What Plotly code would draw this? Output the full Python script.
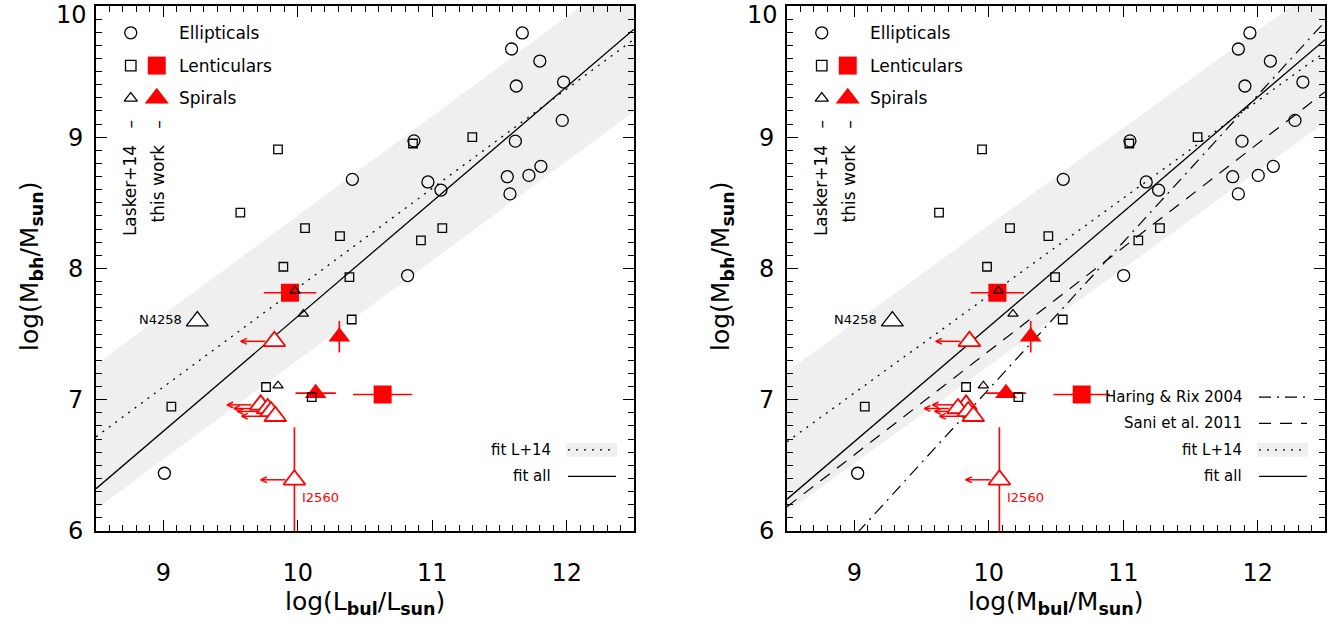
import plotly.graph_objects as go

# ------------------------------------------------------------------ data
# Lasker+14 ellipticals (same log Mbh in both panels)
ell_y = [9.794, 9.672, 9.58, 9.39, 9.42, 9.128, 8.972, 8.970, 8.659, 8.597,
         8.699, 8.709, 8.778, 8.568, 7.946, 8.679, 6.44]
ell_logL = [11.67, 11.59, 11.80, 11.625, 11.977, 11.967, 10.864, 11.618, 10.968, 11.065,
            11.558, 11.719, 11.808, 11.578, 10.817, 10.406, 9.008]
ell_logM = [11.942, 11.856, 12.094, 11.905, 12.336, 12.277, 11.050, 11.883, 11.171, 11.263,
            11.814, 12.004, 12.116, 11.856, 11.003, 10.554, 9.025]

# Lasker+14 lenticulars
s0_y = [8.907, 8.426, 8.307, 8.247, 8.013, 7.934, 8.952, 9.0, 8.307, 8.214,
        7.611, 6.948, 7.097, 7.020]
s0_logL = [9.853, 9.573, 10.054, 10.314, 9.893, 10.384, 10.857, 11.298, 11.075, 10.916,
           10.401, 9.060, 9.764, 10.104]
s0_logM = [9.950, 9.630, 10.158, 10.443, 9.987, 10.493, 11.045, 11.553, 11.273, 11.112,
           10.55, 9.078, 9.831, 10.22]

# Lasker+14 spirals
sp_y = [7.830, 7.654, 7.107]
sp_logL = [9.980, 10.042, 9.853]
sp_logM = [10.071, 10.180, 9.960]

# NGC 4258
n4258_y = [7.599]
n4258_logL = [9.253]
n4258_logM = [9.283]

# this work: lenticulars (filled squares, x errors)
tw_s0_y = [7.815, 7.040]
tw_s0_logL = [9.942, 10.631]
tw_s0_errL = [0.195, 0.22]
tw_s0_logM = [10.064, 10.691]
tw_s0_errM = [0.198, 0.21]

# this work: spiral with x error
tw_sph_y = [7.05]
tw_sph_logL = [10.133]
tw_sph_errL = [0.15]
tw_sph_logM = [10.128]
tw_sph_errM = [0.15]

# this work: spiral with y error
tw_spv_y = [7.48]
tw_spv_erry = [0.12]
tw_spv_logL = [10.309]
tw_spv_logM = [10.312]

# this work: spirals, upper limits on bulge (open triangles with arrows)
tw_lim_y = [7.445, 6.961, 6.933, 6.911, 6.874, 6.39]
tw_lim_erry = [0, 0, 0, 0, 0, 0.4]
tw_lim_logL = [9.826, 9.724, 9.776, 9.801, 9.833, 9.975]
tw_lim_logM = [9.856, 9.831, 9.771, 9.848, 9.885, 10.079]
tw_lim_names = ["", "", "", "", "", "I2560"]
limit_len = 0.25

# fits: (value at log x = 11, slope)
fit_all_L = (8.51, 0.875)
fit_L14_L = (8.61, 0.757)
band_L = 0.55
fit_all_M = (8.43, 0.875)
fit_L14_M = (8.535, 0.742)
band_M = 0.535
sani2011 = (8.16, 0.79)
haring2004 = (8.20, 1.12)
PIVOT = 11.0

XR = [8.5, 12.5]
YR = [6, 10]
X_TICKS = [9, 10, 11, 12]
Y_TICKS = [6, 7, 8, 9, 10]

# ------------------------------------------------------------------ layout helpers
W, H = 1343, 636
FONT = "DejaVu Sans"
RED = "#ff0000"
GREY = "#efefef"
TICKFONT = dict(family=FONT, size=24, color="black")

# arrow geometry (in axis units): gap from marker, head arm length / spread
ARROW_GAP = 0.068
HEAD_DX = 0.045
HEAD_DY = 0.022


def px(x):
    return x / W


def py(y):
    return 1 - y / H


PANELS = [
    dict(xa="x", ya="y", x0=96, x1=634, xlab="log(L<sub><b>bul</b></sub>/L<sub><b>sun</b></sub>)",
         ell=ell_logL, s0=s0_logL, sp=sp_logL, n=n4258_logL,
         tws0=tw_s0_logL, tws0e=tw_s0_errL, twsph=tw_sph_logL, twsphe=tw_sph_errL,
         twspv=tw_spv_logL, twlim=tw_lim_logL,
         fit_all=fit_all_L, fit_l14=fit_L14_L, band=band_L, extra=False),
    dict(xa="x2", ya="y2", x0=787, x1=1325, xlab="log(M<sub><b>bul</b></sub>/M<sub><b>sun</b></sub>)",
         ell=ell_logM, s0=s0_logM, sp=sp_logM, n=n4258_logM,
         tws0=tw_s0_logM, tws0e=tw_s0_errM, twsph=tw_sph_logM, twsphe=tw_sph_errM,
         twspv=tw_spv_logM, twlim=tw_lim_logM,
         fit_all=fit_all_M, fit_l14=fit_L14_M, band=band_M, extra=True),
]

Y0, Y1 = 6, 543  # pixel top / bottom of plot area

fig = go.Figure()
annotations = []
shapes = []


def line_y(fit, xs):
    a, b = fit
    return [a + b * (x - PIVOT) for x in xs]


def open_marker(symbol, size, width=1.3, color="black"):
    return dict(symbol=symbol, size=size, color=color, line=dict(color=color, width=width))


for P in PANELS:
    xa, ya = P["xa"], P["ya"]
    xref = xa
    yref = ya
    xs = XR
    # scatter band
    up = [v + P["band"] for v in line_y(P["fit_l14"], xs)]
    lo = [v - P["band"] for v in line_y(P["fit_l14"], xs)]
    fig.add_trace(go.Scatter(x=xs + xs[::-1], y=up + lo[::-1], fill="toself", fillcolor=GREY,
                             line=dict(width=0), mode="lines", hoverinfo="skip",
                             xaxis=xa, yaxis=ya, showlegend=False))
    # fit lines
    fig.add_trace(go.Scatter(x=xs, y=line_y(P["fit_l14"], xs), mode="lines",
                             line=dict(color="black", width=1.3, dash="2px,6px"),
                             xaxis=xa, yaxis=ya, showlegend=False))
    fig.add_trace(go.Scatter(x=xs, y=line_y(P["fit_all"], xs), mode="lines",
                             line=dict(color="black", width=1.3),
                             xaxis=xa, yaxis=ya, showlegend=False))
    if P["extra"]:
        fig.add_trace(go.Scatter(x=xs, y=line_y(sani2011, xs), mode="lines",
                                 line=dict(color="black", width=1.2, dash="12px,9px"),
                                 xaxis=xa, yaxis=ya, showlegend=False))
        fig.add_trace(go.Scatter(x=xs, y=line_y(haring2004, xs), mode="lines",
                                 line=dict(color="black", width=1.2, dash="12px,6px,2px,6px"),
                                 xaxis=xa, yaxis=ya, showlegend=False))

    # this work: upper-limit arrows (shaft + open head), built from the data
    ax_, ay_ = [], []
    for xv, yv in zip(P["twlim"], tw_lim_y):
        tip = xv - limit_len
        ax_ += [xv - ARROW_GAP, tip, None,
                tip + HEAD_DX, tip, tip + HEAD_DX, None]
        ay_ += [yv, yv, None,
                yv + HEAD_DY, yv, yv - HEAD_DY, None]
    fig.add_trace(go.Scatter(x=ax_, y=ay_, mode="lines", line=dict(color=RED, width=1.5),
                             connectgaps=False, xaxis=xa, yaxis=ya, showlegend=False))
    # this work: open triangles (limits)
    fig.add_trace(go.Scatter(x=P["twlim"], y=tw_lim_y, mode="markers",
                             error_y=dict(type="data", array=tw_lim_erry, color=RED,
                                          thickness=1.6, width=0),
                             marker=dict(symbol="triangle-up", size=19, color="white",
                                         line=dict(color=RED, width=1.8)),
                             xaxis=xa, yaxis=ya, showlegend=False))
    # this work: filled squares
    fig.add_trace(go.Scatter(x=P["tws0"], y=tw_s0_y, mode="markers",
                             error_x=dict(type="data", array=P["tws0e"], color=RED,
                                          thickness=1.6, width=0),
                             marker=dict(symbol="square", size=18, color=RED,
                                         line=dict(width=0)),
                             xaxis=xa, yaxis=ya, showlegend=False))
    # this work: filled triangles
    fig.add_trace(go.Scatter(x=P["twsph"], y=tw_sph_y, mode="markers",
                             error_x=dict(type="data", array=P["twsphe"], color=RED,
                                          thickness=1.6, width=0),
                             marker=dict(symbol="triangle-up", size=19, color=RED,
                                         line=dict(width=0)),
                             xaxis=xa, yaxis=ya, showlegend=False))
    fig.add_trace(go.Scatter(x=P["twspv"], y=tw_spv_y, mode="markers",
                             error_y=dict(type="data", array=tw_spv_erry, color=RED,
                                          thickness=1.6, width=0),
                             marker=dict(symbol="triangle-up", size=19, color=RED,
                                         line=dict(width=0)),
                             xaxis=xa, yaxis=ya, showlegend=False))

    # Lasker+14
    fig.add_trace(go.Scatter(x=P["ell"], y=ell_y, mode="markers",
                             marker=open_marker("circle-open", 12),
                             xaxis=xa, yaxis=ya, showlegend=False))
    fig.add_trace(go.Scatter(x=P["s0"], y=s0_y, mode="markers",
                             marker=open_marker("square-open", 8.5),
                             xaxis=xa, yaxis=ya, showlegend=False))
    fig.add_trace(go.Scatter(x=P["sp"], y=sp_y, mode="markers",
                             marker=open_marker("triangle-up-open", 9, 1.2),
                             xaxis=xa, yaxis=ya, showlegend=False))
    fig.add_trace(go.Scatter(x=P["n"], y=n4258_y, mode="markers",
                             marker=dict(symbol="triangle-up", size=19, color="white",
                                         line=dict(color="black", width=1.3)),
                             xaxis=xa, yaxis=ya, showlegend=False))

    # point labels
    annotations.append(dict(x=P["n"][0], y=n4258_y[0], xref=xref, yref=yref, text="N4258",
                            showarrow=False, xanchor="right", xshift=-13, yshift=2,
                            font=dict(family=FONT, size=13, color="black")))
    for xv, yv, nm in zip(P["twlim"], tw_lim_y, tw_lim_names):
        if nm:
            annotations.append(dict(x=xv, y=yv, xref=xref, yref=yref, text=nm,
                                    showarrow=False, xanchor="left", xshift=6, yshift=-18,
                                    font=dict(family=FONT, size=13, color=RED)))

    # ---- upper-left legend (positions in pixels relative to the panel)
    def dx(p):  # pixel offset -> data x
        return XR[0] + p * (XR[1] - XR[0]) / (P["x1"] - P["x0"])

    def dy(p):  # pixel from top -> data y
        return YR[1] - (p - Y0) * (YR[1] - YR[0]) / (Y1 - Y0)

    rows = [33.5, 67, 100.5]
    fig.add_trace(go.Scatter(x=[dx(34.7)], y=[dy(rows[0])], mode="markers", cliponaxis=False,
                             marker=open_marker("circle-open", 12),
                             xaxis=xa, yaxis=ya, showlegend=False))
    fig.add_trace(go.Scatter(x=[dx(34.7)], y=[dy(rows[1])], mode="markers", cliponaxis=False,
                             marker=open_marker("square-open", 10.5),
                             xaxis=xa, yaxis=ya, showlegend=False))
    fig.add_trace(go.Scatter(x=[dx(34.7)], y=[dy(rows[2])], mode="markers", cliponaxis=False,
                             marker=open_marker("triangle-up-open", 11.5),
                             xaxis=xa, yaxis=ya, showlegend=False))
    fig.add_trace(go.Scatter(x=[dx(60.7)], y=[dy(rows[1])], mode="markers", cliponaxis=False,
                             marker=dict(symbol="square", size=18, color=RED, line=dict(width=0)),
                             xaxis=xa, yaxis=ya, showlegend=False))
    fig.add_trace(go.Scatter(x=[dx(60.7)], y=[dy(rows[2])], mode="markers", cliponaxis=False,
                             marker=dict(symbol="triangle-up", size=21, color=RED, line=dict(width=0)),
                             xaxis=xa, yaxis=ya, showlegend=False))
    for lab, r in zip(["Ellipticals", "Lenticulars", "Spirals"], rows):
        annotations.append(dict(x=dx(80.5), y=dy(r), xref=xref, yref=yref, text=lab,
                                showarrow=False, xanchor="left", yanchor="middle",
                                font=dict(family=FONT, size=17, color="black")))
    for lab, p in [("Lasker+14   \u2013", 34.7), ("this work   \u2013", 62)]:
        annotations.append(dict(x=dx(p), y=dy(121), xref=xref, yref=yref, text=lab,
                                textangle=-90, showarrow=False, xanchor="center", yanchor="top",
                                font=dict(family=FONT, size=17, color="black")))

    # ---- lower-right legend (pixel positions)
    items = [("fit all", "solid", 487), ("fit L+14", "2px,6px", 460)]
    if P["extra"]:
        items += [("Sani et al. 2011", "12px,9px", 433), ("Haring & Rix 2004", "12px,6px,2px,6px", 406)]
    lx0 = P["x0"] + 472
    lx1 = P["x0"] + 520
    tx = P["x0"] + 457
    for lab, dash, yy in items:
        if lab == "fit L+14":
            shapes.append(dict(type="rect", xref="paper", yref="paper", x0=px(lx0 - 2), x1=px(lx1 + 1),
                               y0=py(yy + 7), y1=py(yy - 7), fillcolor=GREY, line=dict(width=0),
                               layer="above"))
        shapes.append(dict(type="line", xref="paper", yref="paper", x0=px(lx0), x1=px(lx1),
                           y0=py(yy), y1=py(yy), line=dict(color="black", width=1.3, dash=dash),
                           layer="above"))
        annotations.append(dict(x=px(tx), y=py(yy), xref="paper", yref="paper", text=lab,
                                showarrow=False, xanchor="right", yanchor="middle",
                                font=dict(family=FONT, size=15, color="black")))

    # ---- top y tick label (kept inside the page, as in the reference)
    annotations.append(dict(x=px(P["x0"] - 7), y=py(15), xref="paper", yref="paper",
                            text=str(Y_TICKS[-1]), showarrow=False, xanchor="right",
                            yanchor="middle", font=TICKFONT))

    # ---- axis titles
    annotations.append(dict(x=px((P["x0"] + P["x1"]) / 2), y=py(617), xref="paper", yref="paper",
                            text=P["xlab"], showarrow=False, xanchor="center", yanchor="middle",
                            font=dict(family=FONT, size=25, color="black")))
    annotations.append(dict(x=px(P["x0"] - 65), y=py(272), xref="paper", yref="paper",
                            text="log(M<sub><b>bh</b></sub>/M<sub><b>sun</b></sub>)",
                            textangle=-90, showarrow=False, xanchor="center", yanchor="middle",
                            font=dict(family=FONT, size=25, color="black")))


def axis_common(dom, rng, vals, drop_last=False):
    pad = (rng[1] - rng[0]) * 1e-4
    text = [str(v) for v in vals]
    if drop_last:
        text[-1] = ""
    return dict(domain=dom, range=[rng[0] - pad, rng[1] + pad], tickmode="array",
                tickvals=vals, ticktext=text,
                ticks="inside", ticklen=11, tickwidth=1.4, tickcolor="black",
                minor=dict(tickmode="linear", tick0=0, dtick=0.1, ticks="inside",
                           ticklen=6, tickwidth=1.2, tickcolor="black"),
                showline=True, linewidth=2, linecolor="black", mirror="ticks",
                showgrid=False, zeroline=False, tickfont=TICKFONT)


ydom = [py(Y1), py(Y0)]
xa1 = axis_common([px(96), px(634)], XR, X_TICKS)
xa1.update(ticklabelstandoff=19, anchor="y")
xa2 = axis_common([px(787), px(1325)], XR, X_TICKS)
xa2.update(ticklabelstandoff=19, anchor="y2")
ya1 = axis_common(ydom, YR, Y_TICKS, drop_last=True)
ya1.update(ticklabelstandoff=6, anchor="x")
ya2 = axis_common(ydom, YR, Y_TICKS, drop_last=True)
ya2.update(ticklabelstandoff=6, anchor="x2")

fig.update_layout(
    width=W, height=H, margin=dict(l=0, r=0, t=0, b=0),
    paper_bgcolor="white", plot_bgcolor="white",
    xaxis=xa1, yaxis=ya1, xaxis2=xa2, yaxis2=ya2,
    annotations=annotations, shapes=shapes, showlegend=False,
    font=dict(family=FONT),
)

fig.write_html("out.html")
